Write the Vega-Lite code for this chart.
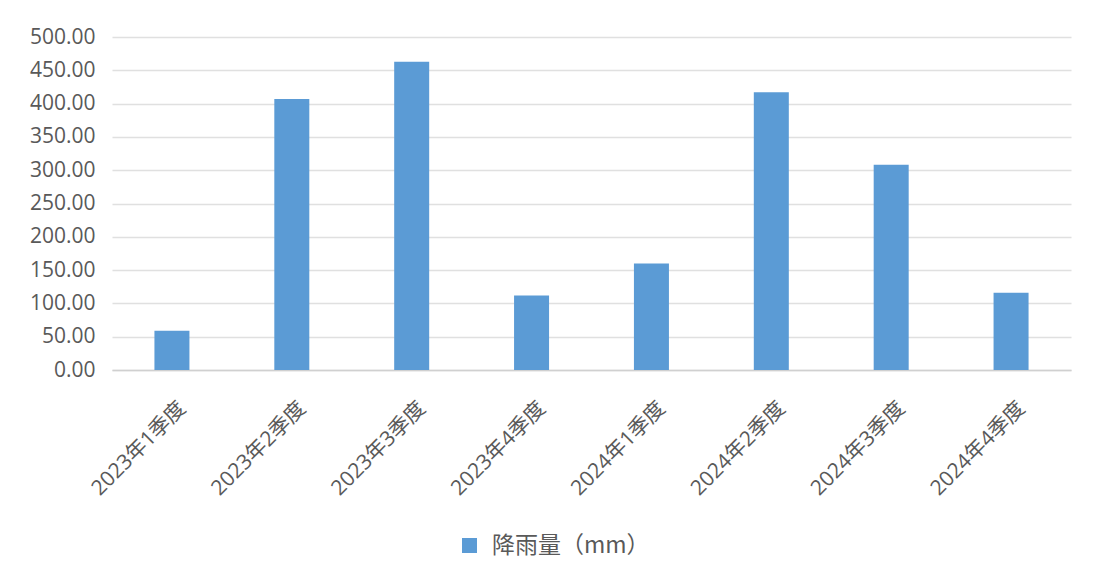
{
  "$schema": "https://vega.github.io/schema/vega-lite/v6.json",
  "autosize": "none",
  "width": 959,
  "height": 333,
  "padding": {"left": 112, "top": 37, "right": 22, "bottom": 210},
  "background": "white",
  "config": {
    "view": {"stroke": null},
    "font": "Open Sans, Noto Sans CJK SC"
  },
  "data": {
    "values": [
      {"quarter": "2023年1季度", "series": "降雨量（mm）", "rain": 59},
      {"quarter": "2023年2季度", "series": "降雨量（mm）", "rain": 407},
      {"quarter": "2023年3季度", "series": "降雨量（mm）", "rain": 463},
      {"quarter": "2023年4季度", "series": "降雨量（mm）", "rain": 112},
      {"quarter": "2024年1季度", "series": "降雨量（mm）", "rain": 160},
      {"quarter": "2024年2季度", "series": "降雨量（mm）", "rain": 417},
      {"quarter": "2024年3季度", "series": "降雨量（mm）", "rain": 308},
      {"quarter": "2024年4季度", "series": "降雨量（mm）", "rain": 116}
    ]
  },
  "mark": {"type": "bar"},
  "encoding": {
    "x": {
      "field": "quarter",
      "type": "nominal",
      "sort": null,
      "scale": {"paddingInner": 0.708, "paddingOuter": 0.354},
      "axis": {
        "title": null,
        "labelAngle": -45,
        "labelFontSize": 21,
        "labelColor": "#595959",
        "labelFont": "Open Sans, Noto Sans CJK SC",
        "ticks": false,
        "tickSize": 0,
        "labelPadding": 27,
        "labelOffset": 3,
        "domainColor": "#d0d0d0",
        "domainWidth": 1.5,
        "grid": false
      }
    },
    "y": {
      "field": "rain",
      "type": "quantitative",
      "scale": {"domain": [0, 500], "nice": false},
      "axis": {
        "title": null,
        "values": [0, 50, 100, 150, 200, 250, 300, 350, 400, 450, 500],
        "format": ".2f",
        "labelFontSize": 21,
        "labelColor": "#595959",
        "labelFont": "Open Sans",
        "ticks": false,
        "tickSize": 0,
        "labelPadding": 17,
        "domain": false,
        "grid": true,
        "gridColor": "#e0e0e0",
        "gridWidth": 1.3
      }
    },
    "color": {
      "field": "series",
      "type": "nominal",
      "scale": {"range": ["#5b9bd5"]},
      "legend": {
        "title": null,
        "orient": "none",
        "legendX": 346,
        "legendY": 497,
        "symbolType": "square",
        "symbolSize": 225,
        "symbolStrokeWidth": 0,
        "labelFontSize": 23,
        "labelColor": "#595959",
        "labelFont": "Noto Sans CJK SC",
        "labelOffset": 11,
        "labelLimit": 400
      }
    }
  }
}
